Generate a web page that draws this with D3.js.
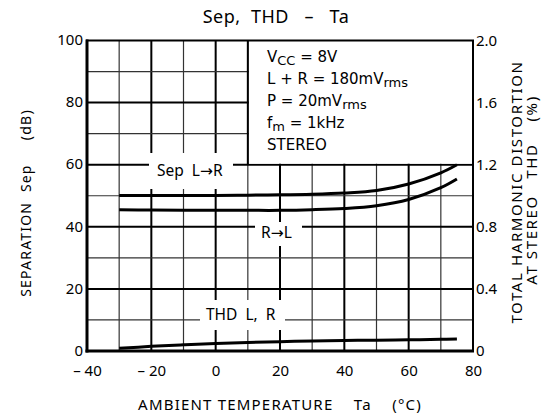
<!DOCTYPE html>
<html><head><meta charset="utf-8">
<script src="https://cdn.jsdelivr.net/npm/d3@7"></script>
<style>body{margin:0;background:#fff}svg{display:block}text{font-family:"Noto Sans",sans-serif;fill:#000}</style>
</head><body><svg id="c" width="544" height="418"></svg>
<script>
const temps = [-30,-20,-10,0,10,20,30,40,50,60,70,75];
const sepLR = [50.1,50.1,50.1,50.1,50.2,50.3,50.5,50.9,51.7,53.8,57.4,60];
const sepRL = [45.5,45.4,45.3,45.3,45.3,45.3,45.5,45.9,46.8,48.8,52.6,55.4];
const thd = [0.017,0.03,0.04,0.049,0.055,0.06,0.065,0.068,0.07,0.072,0.075,0.077];
const xTicks = [-40,-20,0,20,40,60,80];
const xTickLabels = ["– 40","– 20","0","20","40","60","80"];
const yTicks = [0,20,40,60,80,100];
const y2Ticks = [0,0.4,0.8,1.2,1.6,2.0];
const y2TickLabels = ["0","0.4","0.8","1.2","1.6","2.0"];

const svg = d3.select("#c");
const L=87,R=473,T=40.5,B=351;
const x = d3.scaleLinear().domain([-40,80]).range([L,R]);
const y = d3.scaleLinear().domain([0,100]).range([B,T]);
const y2 = d3.scaleLinear().domain([0,2]).range([B,T]);

// grid
const g = svg.append("g");
d3.range(-30,80,10).forEach(v=>{
  const major = v%20===0;
  g.append("line").attr("x1",x(v)).attr("x2",x(v)).attr("y1",T).attr("y2",B)
   .attr("stroke", major?"#000":"#333").attr("stroke-width", major?2:1.2);
});
d3.range(10,100,10).forEach(v=>{
  const major = v%20===0;
  g.append("line").attr("x1",L).attr("x2",R).attr("y1",y(v)).attr("y2",y(v))
   .attr("stroke", major?"#000":"#333").attr("stroke-width", major?2:1.2);
});
// info box region (no grid)
g.append("rect").attr("x",x(10)+1).attr("y",T).attr("width",x(80)-x(10)-1).attr("height",y(60)-T-1).attr("fill","#fff");
g.append("line").attr("x1",x(10)).attr("x2",x(10)).attr("y1",T).attr("y2",y(60)).attr("stroke","#000").attr("stroke-width",2);

// label backgrounds
function bg(x0,y0,w,h){g.append("rect").attr("x",x0).attr("y",y0).attr("width",w).attr("height",h).attr("fill","#fff");}
bg(149,153,84,36);
bg(255,222,47,24);
bg(200,300,85,30);

// frame
svg.append("rect").attr("x",L).attr("y",T).attr("width",R-L).attr("height",B-T).attr("fill","none").attr("stroke","#000").attr("stroke-width",2);
svg.append("line").attr("x1",L).attr("x2",L).attr("y1",T-1).attr("y2",B+1.5).attr("stroke","#000").attr("stroke-width",3);
svg.append("line").attr("x1",L-1.5).attr("x2",R+1).attr("y1",B).attr("y2",B).attr("stroke","#000").attr("stroke-width",3);

// curves
const line = d3.line().curve(d3.curveCatmullRom.alpha(0.5));
const pts = (ys,sc)=>temps.map((t,i)=>[x(t),sc(ys[i])]);
[[sepLR,y],[sepRL,y],[thd,y2]].forEach(([d,sc])=>{
  svg.append("path").attr("d",line(pts(d,sc))).attr("fill","none").attr("stroke","#000").attr("stroke-width",3);
});

// axis ticks
const ax = d3.axisBottom(x).tickValues(xTicks).tickSize(0).tickFormat((d,i)=>xTickLabels[i]);
const axg = svg.append("g").attr("transform",`translate(0,${B})`).call(ax);
axg.select(".domain").remove();
axg.selectAll("text").attr("dy",0).attr("y",25).style("font-size","15px").style("font-family","Noto Sans").attr("xml:space","preserve");
const ay = d3.axisLeft(y).tickValues(yTicks).tickSize(0);
const ayg = svg.append("g").attr("transform",`translate(${L},0)`).call(ay);
ayg.select(".domain").remove();
ayg.selectAll("text").attr("x",-4).attr("dy","0.28em").style("font-size","15px").style("font-family","Noto Sans");
const ay2 = d3.axisRight(y2).tickValues(y2Ticks).tickSize(0).tickFormat((d,i)=>y2TickLabels[i]);
const ay2g = svg.append("g").attr("transform",`translate(${R},0)`).call(ay2);
ay2g.select(".domain").remove();
ay2g.selectAll("text").attr("x",3).attr("dy","0.3em").style("font-size","15px").style("font-family","Noto Sans");

// titles
svg.append("text").attr("x",276).attr("y",23).attr("text-anchor","middle").style("font-size","18px").style("letter-spacing","0.5px").attr("xml:space","preserve").text("Sep,  THD   –   Ta");
svg.append("text").attr("x",280).attr("y",410).attr("text-anchor","middle").style("font-size","15px").style("letter-spacing","1.2px").attr("xml:space","preserve").text("AMBIENT TEMPERATURE    Ta    (°C)");
svg.append("text").attr("transform","translate(31,203) rotate(-90)").attr("text-anchor","middle").style("font-size","14px").style("letter-spacing","1.2px").attr("xml:space","preserve").text("SEPARATION  Sep     (dB)");
svg.append("text").attr("transform","translate(522,192) rotate(-90)").attr("text-anchor","middle").style("font-size","15px").style("letter-spacing","1.6px").text("TOTAL HARMONIC DISTORTION");
svg.append("text").attr("transform","translate(537,190) rotate(-90)").attr("text-anchor","middle").style("font-size","15px").style("letter-spacing","1.6px").attr("xml:space","preserve").text("AT STEREO   THD    (%)");

// info box text
const info = svg.append("g").style("font-size","15px").style("font-family","DejaVu Sans");
function tline(yb, parts){
  const t = info.append("text").attr("x",267).attr("y",yb).attr("xml:space","preserve").style("font-family","DejaVu Sans");
  parts.forEach(p=>{ const s=t.append("tspan").text(p[0]); if(p[1]) s.attr("dy",p[1]); if(p[2]) s.style("font-size",p[2]); });
}
tline(62,[["V"],["CC","3","13px"],[" = 8V","-3"]]);
tline(84,[["L + R = 180mV"],["rms","3","13px"]]);
tline(106,[["P = 20mV"],["rms","3","13px"]]);
tline(128,[["f"],["m","3","13px"],[" = 1kHz","-3"]]);
tline(150,[["STEREO"]]);

function arrowLabel(xp, yp, a, b){
  const t = svg.append("text").attr("x",xp).attr("y",yp).style("font-size","15.5px").attr("xml:space","preserve");
  t.append("tspan").text(a);
  t.append("tspan").style("font-family","DejaVu Sans").text("→");
  t.append("tspan").text(b);
}
arrowLabel(157,176,"Sep  L","R");
arrowLabel(261,238,"R","L");
svg.append("text").attr("x",206).attr("y",320).style("font-size","15.5px").attr("xml:space","preserve").text("THD  L,  R");
</script></body></html>
